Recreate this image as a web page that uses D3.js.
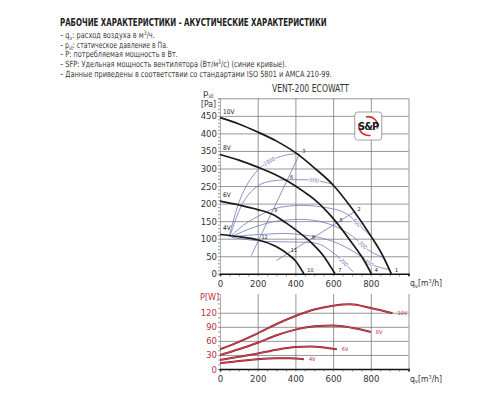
<!DOCTYPE html>
<html>
<head>
<meta charset="utf-8">
<script src="https://cdn.jsdelivr.net/npm/d3@7"></script>
<style>
  body { margin: 0; background: #fff; }
  text { font-family: "Liberation Sans Narrow", "DejaVu Sans Condensed", "Roboto", sans-serif; }
</style>
</head>
<body>
<script>
// header text
const headerTitle = "РАБОЧИЕ ХАРАКТЕРИСТИКИ - АКУСТИЧЕСКИЕ ХАРАКТЕРИСТИКИ";
const notes = [
	[["– q"], ["v", "sub"], [": расход воздуха в м"], ["3", "sup"], ["/ч."]],
	[["– p"], ["st", "sub"], [": статическое давление в Па."]],
	[["– P: потребляемая мощность в Вт."]],
	[["– SFP: Удельная мощность вентилятора (Вт/м"], ["3", "sup"], ["/с) (синие кривые)."]],
	[["– Данные приведены в соответствии со стандартами  ISO 5801 и AMCA 210-99."]]
];
const chartTitle = "VENT-200 ECOWATT";

// tick labels
const flowTicks = [0, 200, 400, 600, 800];
const pressTicks = [0, 50, 100, 150, 200, 250, 300, 350, 400, 450];
const powerTicks = [0, 30, 60, 90, 120];

// fan curves: [q m3/h, p Pa]
const speeds = ["10V", "8V", "6V", "4V"];
const press10V = [[0,445],[100,427],[200,404],[300,378],[406,343],[500,302],[600,253],[700,186],[800,108],[860,55],[909,0]];
const press8V  = [[0,340],[100,324],[200,304],[300,281],[362,263],[450,232],[500,212],[600,158],[700,88],[760,42],[803,0]];
const press6V  = [[0,207],[100,196],[200,183],[283,168],[350,145],[400,126],[486,88],[550,50],[610,0]];
const press4V  = [[0,112],[100,106],[198,97],[300,77],[360,56],[400,37],[445,0]];

// system lines (blue)
const sysLineA = [[166,52],[422,341]];
const sysLineB = [[300,38],[718,178]];

// SFP arcs (blue) and their labels
const arcNames = ["1800", "900", "600", "300", "400", "200"];
const arc1800 = [[48,106],[70,150],[95,195],[125,235],[160,268],[200,295],[260,320],[320,334],[380,341],[418,343]];
const arc900  = [[52,106],[80,150],[110,190],[150,225],[200,250],[270,264],[362,268],[450,268],[530,264],[598,255]];
const arc600  = [[56,106],[100,128],[150,148],[200,163],[290,186],[430,195],[570,188],[680,168],[740,138],[790,112],[812,100]];
const arc300  = [[60,105],[120,120],[200,136],[300,150],[430,155],[560,145],[650,125],[720,100],[786,68],[860,48]];
const arc400  = [[64,104],[150,110],[250,113],[344,115],[450,110],[521,104],[620,88],[700,66],[760,45],[800,28],[850,18],[898,12]];
const arc200  = [[68,103],[150,97],[250,92],[343,91],[450,90],[519,86],[580,68],[640,42],[680,20],[705,6]];

// operating points
const opNames = ["1","2","3","4","5","6","7","8","9","10","11","12"];
const opFlow  = [912, 714, 420, 805, 618, 356, 612, 472, 272, 447, 360, 204];
const opPress = [0, 176, 341, 0, 144, 265, 0, 95, 171, 0, 58, 96];

// power curves: [q m3/h, P W]
const power10V = [[0,42],[100,58],[200,76],[300,96],[400,113],[500,127],[600,135],[690,138],[800,130],[915,119]];
const power8V  = [[0,30],[100,42],[200,56],[300,72],[400,84],[500,91],[600,93],[700,88],[800,79]];
const power6V  = [[0,19],[100,26],[200,33],[300,41],[400,47],[480,48],[550,46],[620,42]];
const power4V  = [[0,12],[100,17],[200,21],[300,23],[370,23],[445,21]];

// declare chart dimensions
const width = 500;
const height = 400;
const plotLeft = 220;
const plotRight = 408.5;
const topBottom = 273.8;
const topTop = 98.3;
const botBottom = 369;
const botTop = 294;

// rendered widths of the header lines (the original uses a condensed face)
const headerWidth = 267;
const noteWidths = [95, 108, 118, 227, 272];

const gridColor = "#6a6a6a";
const blue = "#7077b4";
const red = "#b8323e";

const svg = d3.select("body").append("svg")
	.attr("width", width)
	.attr("height", height)
	.attr("viewBox", [0, 0, width, height]);

// scales
const x = d3.scaleLinear([0, 1000], [plotLeft, plotRight]);
const yP = d3.scaleLinear([0, 500], [topBottom, topTop]);
const yW = d3.scaleLinear([0, 160], [botBottom, botTop]);

// squeeze a text horizontally to a target width (condensed look)
function condense(sel, left, baseline, target) {
	const w = sel.node().getComputedTextLength();
	sel.attr("transform", `translate(${left},${baseline}) scale(${target / w},1)`);
}

// header
const head = svg.append("text")
	.attr("font-size", "10.5px")
	.attr("font-weight", "bold")
	.attr("fill", "#222")
	.text(headerTitle);
condense(head, 60, 26, headerWidth);

notes.forEach((parts, i) => {
	const t = svg.append("text")
		.attr("font-size", "8.6px")
		.attr("fill", "#3a3a3a");
	let prevKind = null;
	parts.forEach(([s, kind]) => {
		const sp = t.append("tspan").text(s);
		if (kind === "sub") sp.attr("font-size", "6px").attr("dy", 2);
		else if (kind === "sup") sp.attr("font-size", "6px").attr("dy", -3);
		else if (prevKind === "sub") sp.attr("dy", -2);
		else if (prevKind === "sup") sp.attr("dy", 3);
		prevKind = kind || null;
	});
	condense(t, 60, 38 + i * 9.7, noteWidths[i]);
});

// ---- top chart: pressure ----
const topG = svg.append("g");

// grid
topG.append("g")
	.attr("transform", `translate(0,${topBottom})`)
	.call(d3.axisBottom(x).tickValues([200, 400, 600, 800, 1000]).tickSize(-(topBottom - topTop)).tickFormat(""))
	.call(g => g.select(".domain").remove())
	.call(g => g.selectAll(".tick line").attr("stroke", gridColor).attr("stroke-width", 0.7));

topG.append("g")
	.attr("transform", `translate(${plotLeft},0)`)
	.call(d3.axisRight(yP).tickValues(d3.range(50, 501, 50)).tickSize(plotRight - plotLeft).tickFormat(""))
	.call(g => g.select(".domain").remove())
	.call(g => g.selectAll(".tick line").attr("stroke", gridColor).attr("stroke-width", 0.7));

// minor ticks
topG.append("g")
	.attr("transform", `translate(${plotLeft},0)`)
	.call(d3.axisLeft(yP).tickValues(d3.range(0, 501, 10)).tickSize(2).tickFormat(""))
	.call(g => g.select(".domain").attr("stroke", "#777").attr("stroke-width", 0.6))
	.call(g => g.selectAll(".tick line").attr("stroke", "#555").attr("stroke-width", 0.6));

topG.append("g")
	.attr("transform", `translate(0,${topBottom})`)
	.call(d3.axisBottom(x).tickValues(d3.range(0, 1001, 50)).tickSize(2.5).tickFormat(""))
	.call(g => g.select(".domain").attr("stroke", "#111").attr("stroke-width", 1.6))
	.call(g => g.selectAll(".tick line").attr("stroke", "#333").attr("stroke-width", 0.6));

// tick labels
topG.append("g")
	.attr("transform", `translate(0,${topBottom})`)
	.call(d3.axisBottom(x).tickValues(flowTicks).tickSize(0).tickPadding(6))
	.call(g => g.select(".domain").remove())
	.call(g => g.selectAll("text").attr("font-size", "9.5px").attr("fill", "#333"));

topG.append("g")
	.attr("transform", `translate(${plotLeft},0)`)
	.call(d3.axisLeft(yP).tickValues(pressTicks).tickSize(0).tickPadding(3))
	.call(g => g.select(".domain").remove())
	.call(g => g.selectAll("text").attr("font-size", "9.5px").attr("fill", "#333"));

// axis names
const pst = svg.append("text").attr("x", 203).attr("y", 96)
	.attr("font-size", "9.5px").attr("fill", "#333");
pst.append("tspan").text("p");
pst.append("tspan").text("st").attr("font-size", "6px").attr("dy", 1.5);
svg.append("text").attr("x", 201).attr("y", 106.5)
	.attr("font-size", "8.5px").attr("fill", "#333").text("[Pa]");

function flowLabel(yPos) {
	const t = svg.append("text").attr("x", 410).attr("y", yPos)
		.attr("font-size", "8.5px").attr("fill", "#333");
	t.append("tspan").text("q");
	t.append("tspan").text("v").attr("font-size", "6px").attr("dy", 1.5);
	t.append("tspan").text("[m").attr("dy", -1.5);
	t.append("tspan").text("3").attr("font-size", "5.5px").attr("dy", -3);
	t.append("tspan").text("/h]").attr("dy", 3);
}
flowLabel(topBottom + 12.5);

const title = svg.append("text")
	.attr("font-size", "10px").attr("fill", "#333")
	.text(chartTitle);
condense(title, 272, 92, 77);

// blue system lines and arcs
const lineGen = d3.line().x(d => x(d[0])).y(d => yP(d[1]));
const arcGen = d3.line().x(d => x(d[0])).y(d => yP(d[1])).curve(d3.curveMonotoneX);

[sysLineA, sysLineB].forEach(l => {
	topG.append("path").datum(l)
		.attr("fill", "none").attr("stroke", blue).attr("stroke-width", 0.8)
		.attr("d", lineGen);
});

const arcs = [arc1800, arc900, arc600, arc300, arc400, arc200];
const arcLabelAt = [0.74, 0.86, 0.86, 0.86, 0.87, 0.9];
arcs.forEach((a, i) => {
	const path = topG.append("path").datum(a)
		.attr("fill", "none").attr("stroke", blue).attr("stroke-width", 0.8)
		.attr("d", arcGen);
	const node = path.node();
	const len = node.getTotalLength();
	const p0 = node.getPointAtLength(len * arcLabelAt[i]);
	const p1 = node.getPointAtLength(Math.min(len, len * arcLabelAt[i] + 2));
	const ang = Math.atan2(p1.y - p0.y, p1.x - p0.x) * 180 / Math.PI;
	topG.append("text")
		.attr("transform", `translate(${p0.x},${p0.y}) rotate(${ang})`)
		.attr("text-anchor", "middle").attr("dy", "0.35em")
		.attr("font-size", "5.5px").attr("font-style", "italic")
		.attr("fill", blue)
		.attr("stroke", "#fff").attr("stroke-width", 2).attr("paint-order", "stroke")
		.text(arcNames[i]);
});

// fan curves
const fanCurve = d3.line().x(d => x(d[0])).y(d => yP(d[1])).curve(d3.curveMonotoneX);
[press10V, press8V, press6V, press4V].forEach((c, i) => {
	topG.append("path").datum(c)
		.attr("fill", "none").attr("stroke", "#1a1a1a").attr("stroke-width", 1.7)
		.attr("d", fanCurve);
	topG.append("text")
		.attr("x", x(c[0][0]) + 3).attr("y", yP(c[0][1]) - 4)
		.attr("font-size", "6.5px").attr("fill", "#222")
		.text(speeds[i]);
});

// operating point numbers
opNames.forEach((n, i) => {
	topG.append("text")
		.attr("x", x(opFlow[i]) + 3).attr("y", yP(opPress[i]) - 1.5)
		.attr("font-size", "5.5px").attr("fill", "#222")
		.text(n);
});

// S&P logo
const logoX0 = x(715), logoX1 = x(858), logoY0 = yP(461), logoY1 = yP(381);
const cx = (logoX0 + logoX1) / 2, cy = (logoY0 + logoY1) / 2;
svg.append("rect")
	.attr("x", logoX0).attr("y", logoY0)
	.attr("width", logoX1 - logoX0).attr("height", logoY1 - logoY0)
	.attr("rx", 3).attr("fill", "#fff").attr("stroke", "#8a8a8a").attr("stroke-width", 0.8);
const ring = d3.arc().innerRadius(8.6).outerRadius(10.2);
[[-0.25, 1.85], [2.9, 4.95]].forEach(([a0, a1]) => {
	svg.append("path")
		.attr("transform", `translate(${cx},${cy})`)
		.attr("fill", "#d62b2b")
		.attr("d", ring({ startAngle: a0, endAngle: a1 }));
});
svg.append("text")
	.attr("x", cx).attr("y", cy + 4)
	.attr("text-anchor", "middle")
	.attr("font-size", "11px").attr("font-weight", "bold").attr("fill", "#1a1a1a")
	.attr("letter-spacing", "-0.8px")
	.text("S&P");

// ---- bottom chart: power ----
const botG = svg.append("g");

botG.append("g")
	.attr("transform", `translate(0,${botBottom})`)
	.call(d3.axisBottom(x).tickValues([200, 400, 600, 800, 1000]).tickSize(-(botBottom - botTop)).tickFormat(""))
	.call(g => g.select(".domain").remove())
	.call(g => g.selectAll(".tick line").attr("stroke", gridColor).attr("stroke-width", 0.7));

botG.append("g")
	.attr("transform", `translate(${plotLeft},0)`)
	.call(d3.axisRight(yW).tickValues([30, 60, 90, 120]).tickSize(plotRight - plotLeft).tickFormat(""))
	.call(g => g.select(".domain").remove())
	.call(g => g.selectAll(".tick line").attr("stroke", gridColor).attr("stroke-width", 0.7));

botG.append("g")
	.attr("transform", `translate(${plotLeft},0)`)
	.call(d3.axisLeft(yW).tickValues(d3.range(0, 151, 10)).tickSize(2).tickFormat(""))
	.call(g => g.select(".domain").attr("stroke", "#777").attr("stroke-width", 0.6))
	.call(g => g.selectAll(".tick line").attr("stroke", "#555").attr("stroke-width", 0.6));

botG.append("g")
	.attr("transform", `translate(0,${botBottom})`)
	.call(d3.axisBottom(x).tickValues(d3.range(0, 1001, 50)).tickSize(2.5).tickFormat(""))
	.call(g => g.select(".domain").attr("stroke", "#111").attr("stroke-width", 1.6))
	.call(g => g.selectAll(".tick line").attr("stroke", "#333").attr("stroke-width", 0.6));

botG.append("g")
	.attr("transform", `translate(0,${botBottom})`)
	.call(d3.axisBottom(x).tickValues(flowTicks).tickSize(0).tickPadding(6))
	.call(g => g.select(".domain").remove())
	.call(g => g.selectAll("text").attr("font-size", "9.5px").attr("fill", "#333"));

botG.append("g")
	.attr("transform", `translate(${plotLeft},0)`)
	.call(d3.axisLeft(yW).tickValues(powerTicks).tickSize(0).tickPadding(3))
	.call(g => g.select(".domain").remove())
	.call(g => g.selectAll("text").attr("font-size", "9.5px").attr("fill", red));

// d3 axes set their own font-family; let the page font apply
svg.selectAll(".tick text").each(function() { this.parentNode.parentNode.removeAttribute("font-family"); });

svg.append("text").attr("x", 200).attr("y", 300)
	.attr("font-size", "9px").attr("fill", red).text("P[W]");
flowLabel(botBottom + 12.5);

const powerLine = d3.line().x(d => x(d[0])).y(d => yW(d[1])).curve(d3.curveMonotoneX);
[power10V, power8V, power6V, power4V].forEach((c, i) => {
	botG.append("path").datum(c)
		.attr("fill", "none").attr("stroke", "#8e1f2a").attr("stroke-width", 2)
		.attr("d", powerLine);
	botG.append("path").datum(c)
		.attr("fill", "none").attr("stroke", "#d9525e").attr("stroke-width", 0.8)
		.attr("d", powerLine);
	const last = c[c.length - 1];
	botG.append("text")
		.attr("x", x(last[0]) + 5).attr("y", yW(last[1]) + 2)
		.attr("font-size", "5.5px").attr("fill", red)
		.text(speeds[i]);
});
</script>
</body>
</html>
